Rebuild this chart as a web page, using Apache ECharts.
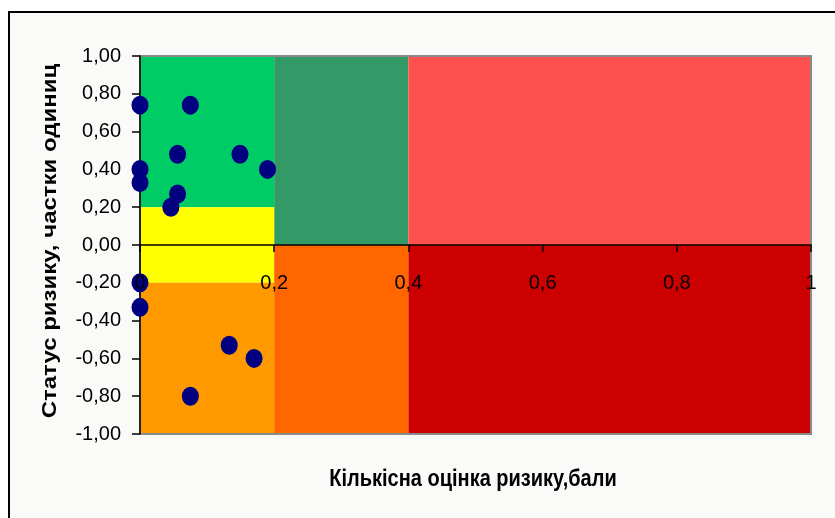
<!DOCTYPE html>
<html>
<head>
<meta charset="utf-8">
<script src="https://cdn.jsdelivr.net/npm/echarts@6/dist/echarts.min.js"></script>
<style>
  html, body { margin: 0; padding: 0; background: #ffffff; }
  #chart { width: 835px; height: 518px; }
</style>
</head>
<body>
<div id="chart"></div>
<script>
// Risk assessment points: quantitative score (x) vs. risk status (y)
const riskScore  = [0, 0.075, 0, 0, 0.056, 0.056, 0.046, 0.149, 0.19, 0, 0, 0.133, 0.17, 0.075];
const riskStatus = [0.74, 0.74, 0.40, 0.33, 0.48, 0.27, 0.20, 0.48, 0.40, -0.20, -0.33, -0.53, -0.60, -0.80];

// Risk zones (score range × status range)
const zoneX0 = [0,   0.2, 0.4, 0,    0,    0.2, 0.4];
const zoneX1 = [0.2, 0.4, 1,   0.2,  0.2,  0.4, 1  ];
const zoneY0 = [0.2, 0,   0,   -0.2, -1,   -1,  -1 ];
const zoneY1 = [1,   1,   1,   0.2,  -0.2, 0,   0  ];

// Axis ranges
const xRange = [0, 1, 0.2];
const yRange = [-1, 1, 0.2];

const xTitle = 'Кількісна оцінка ризику,бали';
const yTitle = 'Статус ризику, частки одиниц';

// Fill colour for each zone, in the order above
const zoneColors = ['#00CC66', '#339966', '#FF5050', '#FFFF00', '#FF9900', '#FF6600', '#CC0000'];

const GRID = { left: 140, top: 56, width: 671, height: 378 };
const FONT = 'Arial, "Liberation Sans", sans-serif';
// glyphs are drawn slightly taller than wide
const STRETCH = 1.2;

const chart = echarts.init(document.getElementById('chart'), null, { renderer: 'canvas' });

const zoneAreas = zoneX0.map((x0, i) => [
  { xAxis: x0, yAxis: zoneY0[i], itemStyle: { color: zoneColors[i], opacity: 1 } },
  { xAxis: zoneX1[i], yAxis: zoneY1[i] }
]);

const points = riskScore.map((x, i) => [x, riskStatus[i]]);

const fmt = (v, digits) => {
  const s = digits == null ? String(+v.toFixed(4)) : v.toFixed(digits);
  return s.replace('.', ',');
};

// x axis sits on the zero line of the status axis
const zeroOffset = -GRID.height * (0 - yRange[0]) / (yRange[1] - yRange[0]);

chart.setOption({
  animation: false,
  backgroundColor: '#ffffff',
  graphic: [
    {
      type: 'rect', z: -10, silent: true,
      shape: { x: 9, y: 12, width: 840, height: 520 },
      style: { fill: '#FAFAF8', stroke: '#000000', lineWidth: 2 }
    },
    {
      type: 'rect', z: 100, silent: true,
      shape: { x: GRID.left, y: GRID.top, width: GRID.width, height: GRID.height },
      style: { fill: 'none', stroke: '#8a8a8a', lineWidth: 2 }
    },
    {
      type: 'text', z: 100, silent: true,
      x: 473, y: 479, scaleY: STRETCH,
      style: {
        text: xTitle, font: 'bold 20px ' + FONT, fill: '#000000',
        align: 'center', verticalAlign: 'middle'
      }
    },
    {
      type: 'text', z: 100, silent: true,
      x: 50, y: 241, rotation: Math.PI / 2, scaleX: STRETCH,
      style: {
        text: yTitle, font: 'bold 20px ' + FONT, fill: '#000000',
        align: 'center', verticalAlign: 'middle'
      }
    }
  ],
  grid: { left: GRID.left, top: GRID.top, width: GRID.width, height: GRID.height, containLabel: false },
  xAxis: {
    type: 'value',
    min: xRange[0], max: xRange[1], interval: xRange[2],
    position: 'bottom',
    offset: zeroOffset,
    z: 250,
    splitLine: { show: false },
    axisLine: { show: true, onZero: false, lineStyle: { color: '#000000', width: 1.5 } },
    axisTick: { show: true, length: 7, lineStyle: { color: '#000000', width: 1.5 } },
    axisLabel: {
      margin: 28, color: '#000000', fontSize: 20, fontFamily: FONT,
      formatter: v => fmt(v)
    }
  },
  yAxis: {
    type: 'value',
    min: yRange[0], max: yRange[1], interval: yRange[2],
    z: 150,
    splitLine: { show: false },
    axisLine: { show: true, onZero: false, lineStyle: { color: '#000000', width: 1.5 } },
    axisTick: { show: true, length: 8, lineStyle: { color: '#000000', width: 1.5 } },
    axisLabel: {
      margin: 19, color: '#000000', fontSize: 20, fontFamily: FONT,
      formatter: v => fmt(v, 2)
    }
  },
  series: [
    {
      type: 'scatter',
      z: 1,
      silent: true,
      data: [],
      markArea: { silent: true, data: zoneAreas }
    },
    {
      type: 'scatter',
      z: 200,
      data: points,
      symbol: 'circle',
      symbolSize: [17, 19],
      itemStyle: { color: '#000080', opacity: 1 }
    }
  ]
});
</script>
</body>
</html>
